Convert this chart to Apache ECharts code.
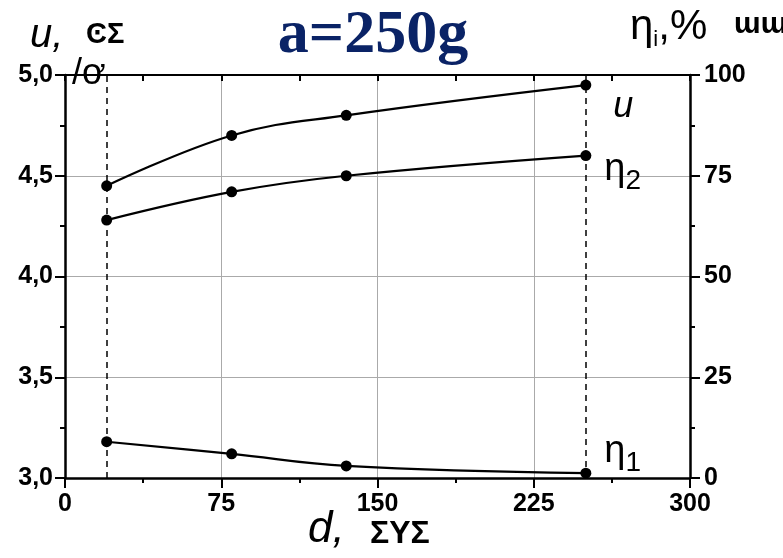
<!DOCTYPE html>
<html>
<head>
<meta charset="utf-8">
<script src="https://cdn.jsdelivr.net/npm/echarts@6/dist/echarts.min.js"></script>
<style>
  html, body { margin: 0; padding: 0; background: #fff; }
  #chart { width: 783px; height: 558px; }
</style>
</head>
<body>
<div id="chart"></div>
<script>
// 数据
const dValues = [20, 80, 135, 250];        // d, x 轴
const uValues = [4.45, 4.70, 4.80, 4.95];  // u, 左轴
const eta2Values = [64, 71, 75, 80];       // η2, %, 右轴
const eta1Values = [9, 6, 3, 1.2];         // η1, %, 右轴
const dashedAt = [20, 250];                // 竖直虚线

const axisFont = "'Liberation Sans', Arial, sans-serif";
const labelFont = "'Liberation Sans', Arial, sans-serif";

function pairs(ys) {
    return dValues.map((x, i) => [x, ys[i]]);
}

// 末点标签
function lastLabel(ys, text, offset) {
    return pairs(ys).map((p, i) => {
        if (i !== ys.length - 1) return p;
        return {
            value: p,
            label: {
                show: true,
                position: "right",
                offset: offset,
                formatter: text,
                rich: {
                    g: { fontFamily: labelFont, fontSize: 38, color: "#000" },
                    i: { fontFamily: labelFont, fontSize: 36, fontStyle: "italic", color: "#000" },
                    s: { fontFamily: labelFont, fontSize: 28, color: "#000", padding: [24, 0, 0, 0] },
                },
            },
        };
    });
}

const lineStyle = { color: "#000", width: 2.2 };
const itemStyle = { color: "#000" };

const tickLabel = {
    fontFamily: axisFont,
    fontWeight: "bold",
    fontSize: 25,
    color: "#000",
};

const option = {
    animation: false,
    grid: { left: 65, right: 93, top: 75, bottom: 80 },
    title: {
        text: "a=250g",
        left: 368,
        top: 0,
        textAlign: "center",
        textStyle: {
            fontFamily: "'Liberation Serif', 'Times New Roman', serif",
            fontWeight: "bold",
            fontSize: 62,
            color: "#0a2366",
        },
    },
    xAxis: [
        {
            type: "value",
            min: 0,
            max: 300,
            interval: 75,
            axisLine: { show: true, onZero: false, lineStyle: { color: "#000", width: 2.5 } },
            axisTick: { show: true, length: 10, lineStyle: { color: "#000", width: 2 } },
            minorTick: { show: true, splitNumber: 2, length: 5, lineStyle: { color: "#000", width: 2 } },
            axisLabel: Object.assign({ margin: 14 }, tickLabel),
            splitLine: { show: true, lineStyle: { color: "#aaa", width: 1 } },
        },
        {
            type: "value",
            position: "top",
            min: 0,
            max: 300,
            interval: 37.5,
            axisLine: { show: true, onZero: false, lineStyle: { color: "#000", width: 2 } },
            axisTick: { show: true, inside: true, length: 6, lineStyle: { color: "#000", width: 2 } },
            axisLabel: { show: false },
            splitLine: { show: false },
        },
    ],
    yAxis: [
        {
            type: "value",
            min: 3,
            max: 5,
            interval: 0.5,
            axisLine: { show: true, onZero: false, lineStyle: { color: "#000", width: 2.5 } },
            axisTick: { show: true, length: 10, lineStyle: { color: "#000", width: 2 } },
            minorTick: { show: true, splitNumber: 2, length: 5, lineStyle: { color: "#000", width: 2 } },
            axisLabel: Object.assign({
                margin: 12,
                formatter: (v) => v.toFixed(1).replace(".", ","),
            }, tickLabel),
            splitLine: { show: true, lineStyle: { color: "#aaa", width: 1 } },
        },
        {
            type: "value",
            min: 0,
            max: 100,
            interval: 25,
            axisLine: { show: true, onZero: false, lineStyle: { color: "#000", width: 2.5 } },
            axisTick: { show: true, length: 10, lineStyle: { color: "#000", width: 2 } },
            minorTick: { show: true, splitNumber: 2, length: 5, lineStyle: { color: "#000", width: 2 } },
            axisLabel: Object.assign({ margin: 14 }, tickLabel),
            splitLine: { show: false },
        },
    ],
    series: [
        {
            name: "u",
            type: "line",
            xAxisIndex: 0,
            yAxisIndex: 0,
            smooth: 0.4,
            symbol: "circle",
            symbolSize: 11,
            lineStyle: lineStyle,
            itemStyle: itemStyle,
            data: lastLabel(uValues, "{i|u}", [17, 22]),
            markLine: {
                silent: true,
                symbol: ["none", "none"],
                label: { show: false },
                lineStyle: { color: "#000", type: [6, 5], width: 1.5 },
                data: dashedAt.map((x) => ({ xAxis: x })),
            },
        },
        {
            name: "η2",
            type: "line",
            xAxisIndex: 0,
            yAxisIndex: 1,
            smooth: 0.4,
            symbol: "circle",
            symbolSize: 11,
            lineStyle: lineStyle,
            itemStyle: itemStyle,
            data: lastLabel(eta2Values, "{g|η}{s|2}", [8, 14]),
        },
        {
            name: "η1",
            type: "line",
            xAxisIndex: 0,
            yAxisIndex: 1,
            smooth: 0.4,
            symbol: "circle",
            symbolSize: 11,
            lineStyle: lineStyle,
            itemStyle: itemStyle,
            data: lastLabel(eta1Values, "{g|η}{s|1}", [8, -22]),
        },
    ],
    graphic: [
        // 左轴名
        { type: "text", left: 30, top: 16, style: { text: "u,", font: "italic 40px " + labelFont, fill: "#000" } },
        { type: "text", left: 86, top: 20, style: { text: "ϾΣ", font: "bold 29px " + labelFont, fill: "#000" } },
        { type: "text", left: 72, top: 56, style: { text: "/ơ", font: "36px " + labelFont, fill: "#000" } },
        // 右轴名
        {
            type: "text",
            left: 630,
            top: 6,
            style: {
                text: "{g|η}{s|i}{g|,%}",
                rich: {
                    g: { fontFamily: labelFont, fontSize: 42, fill: "#000" },
                    s: { fontFamily: labelFont, fontSize: 22, fill: "#000", padding: [26, 0, 0, 0] },
                },
            },
        },
        { type: "text", left: 734, top: 10, style: { text: "ɯɯɪ", font: "bold 30px " + labelFont, fill: "#000" } },
        // x 轴名
        { type: "text", left: 308, top: 508, style: { text: "d,", font: "italic 44px " + labelFont, fill: "#000" } },
        { type: "text", left: 370, top: 518, style: { text: "ΣΥΣ", font: "bold 32px " + labelFont, fill: "#000" } },
    ],
};

const chart = echarts.init(document.getElementById("chart"));
chart.setOption(option);
window.addEventListener("resize", function () {
    chart.resize();
});
</script>
</body>
</html>
